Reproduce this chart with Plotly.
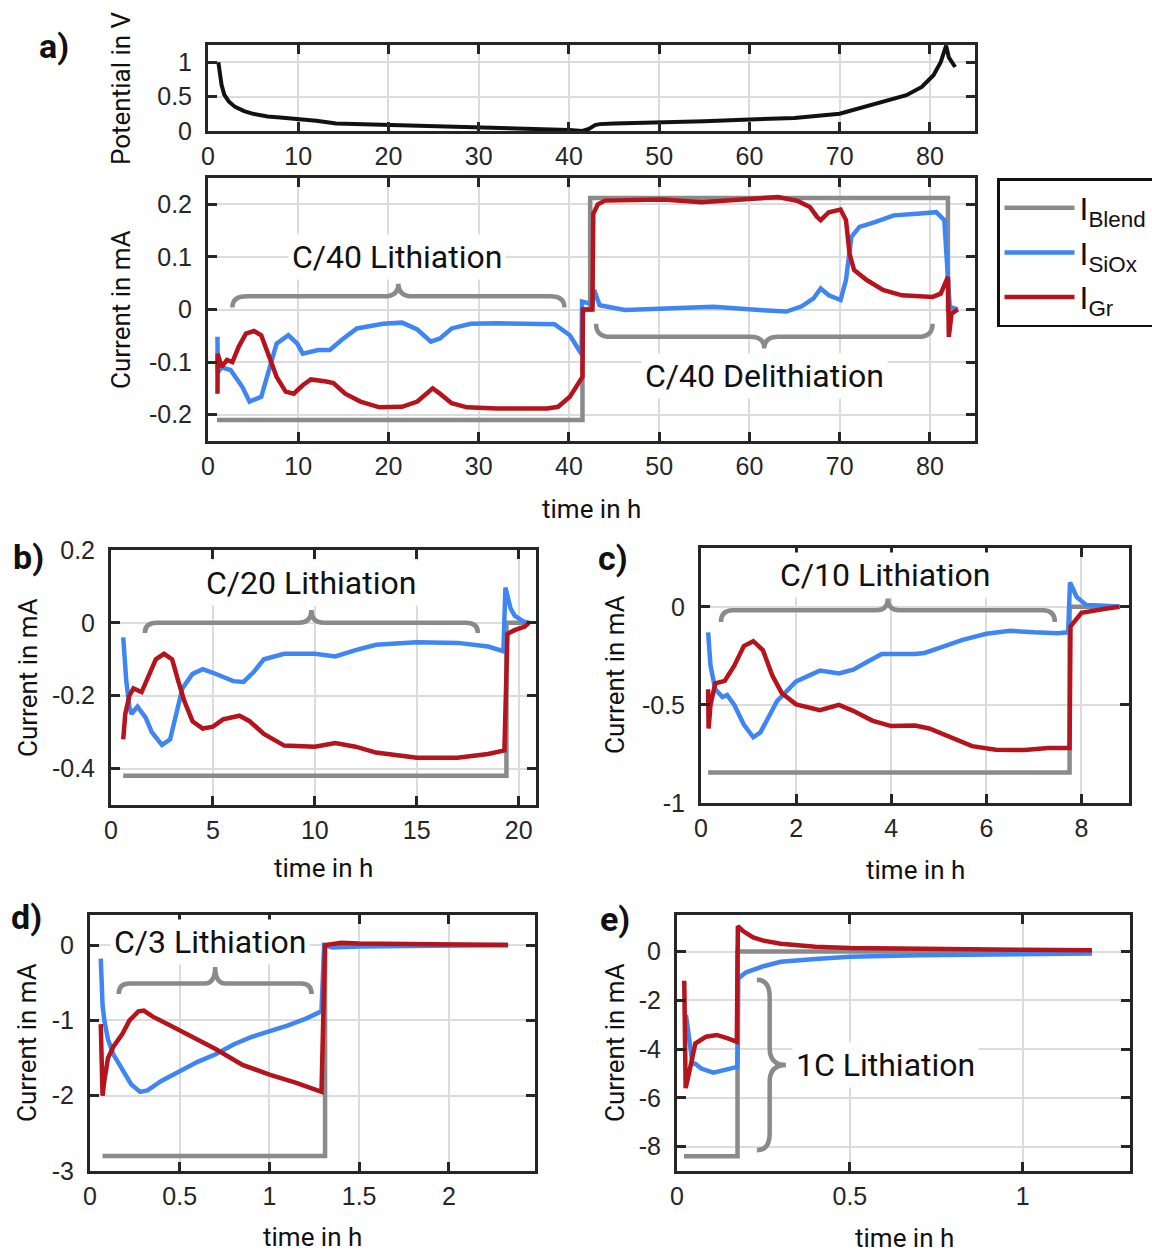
import plotly.graph_objects as go

W, H = 1152, 1252

# ---------------- data ----------------
# a) potential (top strip)
pot_t = [1.15, 1.3, 1.5, 1.8, 2.3, 3.0, 4.0, 5.0, 6.6, 8.0, 10.4, 12.0, 14.2, 17.0, 20.0, 25.0, 30.0, 35.0,
         38.0, 40.0, 41.5, 42.2, 42.9, 43.4, 45.0, 50.0, 55.0, 60.0, 65.0, 70.0, 72.0, 74.0, 76.0, 77.4,
         79.1, 80.4, 81.2, 81.8, 82.1, 82.5, 82.8]
pot_v = [1.0, 0.85, 0.67, 0.53, 0.43, 0.35, 0.29, 0.25, 0.21, 0.195, 0.17, 0.15, 0.11, 0.1, 0.086, 0.07, 0.055,
         0.04, 0.03, 0.015, 0.0, 0.03, 0.086, 0.1, 0.11, 0.12, 0.14, 0.167, 0.19, 0.25, 0.32, 0.4, 0.46, 0.52,
         0.64, 0.81, 1.0, 1.24, 1.07, 0.98, 0.93]

# a) currents, C/40
blend_a_t = [1.0, 41.5, 41.5, 42.35, 42.35, 82.0, 82.0, 83.0]
blend_a = [-0.21, -0.21, 0.0, 0.0, 0.212, 0.212, 0.0, 0.0]
siox_a_t = [1.05, 1.07, 1.5, 2.5, 3.8, 4.6, 5.9, 6.75, 7.6, 8.9, 9.9, 10.5, 12.2, 13.5, 14.8, 16.5, 19.4, 21.5,
            23.2, 24.7, 25.7, 27.0, 29.1, 32.0, 36.3, 38.4, 40.1, 41.1, 41.4, 41.45, 42.6, 42.8, 43.4, 46.2,
            50.4, 56.0, 61.1, 64.1, 65.8, 67.1, 67.9, 68.8, 70.1, 70.7, 71.3, 72.2, 73.9, 76.0, 78.6, 80.7,
            81.6, 82.0, 82.2, 83.1]
siox_a = [-0.052, -0.12, -0.11, -0.115, -0.147, -0.175, -0.166, -0.115, -0.065, -0.049, -0.065, -0.084, -0.077,
          -0.077, -0.058, -0.036, -0.027, -0.025, -0.038, -0.061, -0.055, -0.036, -0.027, -0.026, -0.026, -0.028,
          -0.049, -0.08, -0.085, 0.015, 0.01, 0.037, 0.008, -0.001, 0.002, 0.005, -0.001, -0.004, 0.006, 0.021,
          0.04, 0.027, 0.018, 0.056, 0.138, 0.157, 0.166, 0.179, 0.182, 0.185, 0.17, 0.062, 0.005, 0.0]
gr_a_t = [1.05, 1.07, 1.5, 2.1, 2.7, 3.4, 4.2, 5.1, 5.9, 6.75, 7.6, 8.6, 9.5, 10.5, 11.4, 13.1, 13.9, 15.2, 16.9,
          19.0, 21.5, 23.2, 24.0, 24.9, 25.7, 27.0, 28.7, 32.0, 37.6, 38.8, 40.1, 41.1, 41.5, 41.55, 42.6, 42.7,
          43.2, 44.0, 50.4, 54.7, 59.0, 63.2, 65.4, 66.7, 67.5, 67.9, 68.8, 70.1, 70.7, 71.1, 71.6, 73.0, 74.8,
          76.9, 80.3, 81.2, 82.0, 82.1, 82.4, 83.1]
gr_a = [-0.16, -0.084, -0.109, -0.096, -0.1, -0.071, -0.046, -0.041, -0.049, -0.09, -0.128, -0.156, -0.16, -0.144,
        -0.133, -0.137, -0.14, -0.16, -0.175, -0.186, -0.185, -0.175, -0.162, -0.15, -0.16, -0.178, -0.186, -0.188,
        -0.188, -0.185, -0.166, -0.14, -0.128, 0.0, 0.0, 0.182, 0.2, 0.207, 0.209, 0.204, 0.209, 0.214, 0.206,
        0.195, 0.176, 0.17, 0.185, 0.19, 0.17, 0.106, 0.075, 0.056, 0.037, 0.027, 0.024, 0.03, 0.062, -0.052,
        -0.008, 0.0]

# b) C/20
blend_b_t = [0.6, 19.4, 19.4, 20.5]
blend_b = [-0.42, -0.42, 0.0, 0.0]
siox_b_t = [0.6, 0.75, 0.9, 1.0, 1.3, 1.7, 2.0, 2.5, 2.9, 3.2, 3.5, 4.0, 4.5, 5.0, 6.0, 6.5, 7.0, 7.5, 8.5, 10.0,
            11.0, 12.0, 13.0, 15.0, 17.0, 18.5, 19.25, 19.35, 19.6, 19.8, 20.2, 20.5]
siox_b = [-0.04, -0.16, -0.23, -0.25, -0.23, -0.26, -0.3, -0.335, -0.32, -0.25, -0.18, -0.14, -0.127, -0.137,
          -0.16, -0.162, -0.135, -0.1, -0.085, -0.085, -0.092, -0.075, -0.06, -0.053, -0.055, -0.065, -0.078,
          0.097, 0.04, 0.02, 0.005, 0.0]
gr_b_t = [0.6, 0.7, 0.9, 1.1, 1.5, 1.8, 2.2, 2.6, 3.0, 3.3, 3.6, 4.0, 4.5, 5.0, 5.5, 6.3, 6.8, 7.5, 8.5, 10.0,
          11.0, 12.0, 13.0, 15.0, 17.0, 18.5, 19.3, 19.45, 19.8, 20.3, 20.5]
gr_b = [-0.32, -0.25, -0.2, -0.18, -0.19, -0.15, -0.1, -0.085, -0.1, -0.16, -0.215, -0.27, -0.29, -0.285, -0.265,
        -0.255, -0.27, -0.305, -0.337, -0.34, -0.33, -0.34, -0.356, -0.37, -0.37, -0.36, -0.35, -0.03, -0.02,
        -0.01, 0.0]

# c) C/10
blend_c_t = [0.15, 7.75, 7.75, 8.8]
blend_c = [-0.845, -0.845, 0.0, 0.0]
siox_c_t = [0.15, 0.2, 0.3, 0.45, 0.55, 0.7, 0.9, 1.1, 1.25, 1.45, 1.6, 2.0, 2.5, 2.9, 3.2, 3.5, 3.8, 4.5, 4.7,
            5.0, 5.5, 6.0, 6.5, 7.0, 7.5, 7.72, 7.76, 7.9, 8.1, 8.5, 8.8]
siox_c = [-0.13, -0.3, -0.42, -0.46, -0.45, -0.5, -0.6, -0.665, -0.64, -0.55, -0.48, -0.38, -0.325, -0.34, -0.32,
          -0.28, -0.24, -0.24, -0.235, -0.21, -0.168, -0.137, -0.122, -0.13, -0.135, -0.13, 0.125, 0.05, 0.01,
          0.005, 0.0]
gr_c_t = [0.15, 0.16, 0.2, 0.3, 0.5, 0.7, 0.9, 1.1, 1.3, 1.5, 1.7, 2.0, 2.5, 2.9, 3.2, 3.6, 4.0, 4.5, 4.8, 5.2,
          5.7, 6.2, 6.8, 7.3, 7.75, 7.77, 8.0, 8.5, 8.8]
gr_c = [-0.42, -0.62, -0.5, -0.39, -0.377, -0.3, -0.2, -0.175, -0.22, -0.35, -0.44, -0.497, -0.527, -0.5, -0.53,
        -0.58, -0.608, -0.605, -0.62, -0.66, -0.71, -0.728, -0.73, -0.72, -0.72, -0.1, -0.03, -0.01, 0.0]

# d) C/3
blend_d_t = [0.07, 1.31, 1.31, 2.33]
blend_d = [-2.8, -2.8, 0.0, 0.0]
siox_d_t = [0.06, 0.07, 0.08, 0.1, 0.13, 0.18, 0.23, 0.28, 0.32, 0.4, 0.5, 0.6, 0.7, 0.8, 0.9, 1.0, 1.1, 1.2,
            1.29, 1.305, 1.35, 1.5, 2.0, 2.33]
siox_d = [-0.18, -0.8, -1.0, -1.25, -1.45, -1.65, -1.85, -1.95, -1.93, -1.8, -1.68, -1.55, -1.45, -1.32, -1.22,
          -1.15, -1.07, -0.98, -0.88, 0.0, -0.03, -0.02, 0.0, 0.0]
gr_d_t = [0.06, 0.07, 0.08, 0.1, 0.13, 0.18, 0.22, 0.27, 0.3, 0.35, 0.45, 0.6, 0.7, 0.85, 1.0, 1.15, 1.29, 1.31,
          1.4, 1.5, 2.0, 2.33]
gr_d = [-1.05, -2.0, -1.8, -1.5, -1.35, -1.18, -1.0, -0.88, -0.87, -0.95, -1.07, -1.25, -1.38, -1.59, -1.72, -1.83,
        -1.95, 0.0, 0.03, 0.02, 0.0, 0.0]

# e) 1C
blend_e_t = [0.02, 0.175, 0.175, 1.2]
blend_e = [-8.4, -8.4, 0.0, 0.0]
siox_e_t = [0.026, 0.045, 0.053, 0.07, 0.105, 0.13, 0.16, 0.174, 0.176, 0.177, 0.2, 0.25, 0.3, 0.4, 0.5, 0.7, 1.0,
            1.2]
siox_e = [-2.6, -4.6, -4.6, -4.8, -4.97, -4.9, -4.78, -4.73, -3.8, -1.1, -0.85, -0.6, -0.42, -0.3, -0.21, -0.15,
          -0.1, -0.08]
gr_e_t = [0.021, 0.025, 0.03, 0.045, 0.053, 0.084, 0.115, 0.147, 0.173, 0.176, 0.19, 0.22, 0.25, 0.3, 0.4, 0.5,
          0.7, 1.0, 1.2]
gr_e = [-1.2, -5.6, -5.3, -4.3, -3.77, -3.49, -3.42, -3.56, -3.7, 1.05, 0.85, 0.58, 0.45, 0.32, 0.2, 0.15, 0.1,
        0.07, 0.05]

# tick values / labels
a_xticks = [0, 10, 20, 30, 40, 50, 60, 70, 80]
a_xlabels = ["0", "10", "20", "30", "40", "50", "60", "70", "80"]
pot_yticks = [0, 0.5, 1]
pot_ylabels = ["0", "0.5", "1"]
a_yticks = [-0.2, -0.1, 0, 0.1, 0.2]
a_ylabels = ["-0.2", "-0.1", "0", "0.1", "0.2"]
b_xticks = [0, 5, 10, 15, 20]
b_xlabels = ["0", "5", "10", "15", "20"]
b_yticks = [-0.4, -0.2, 0, 0.2]
b_ylabels = ["-0.4", "-0.2", "0", "0.2"]
c_xticks = [0, 2, 4, 6, 8]
c_xlabels = ["0", "2", "4", "6", "8"]
c_yticks = [-1, -0.5, 0]
c_ylabels = ["-1", "-0.5", "0"]
d_xticks = [0, 0.5, 1, 1.5, 2]
d_xlabels = ["0", "0.5", "1", "1.5", "2"]
d_yticks = [-3, -2, -1, 0]
d_ylabels = ["-3", "-2", "-1", "0"]
e_xticks = [0, 0.5, 1]
e_xlabels = ["0", "0.5", "1"]
e_yticks = [-8, -6, -4, -2, 0]
e_ylabels = ["-8", "-6", "-4", "-2", "0"]

# ---------------- styling ----------------
GRAY, BLUE, RED, BLACK = "#8a8a8a", "#3f86f3", "#b5141c", "#111111"
AXC = "#262626"
TICK_FAMILY = "Liberation Sans, Arial, sans-serif"
TEXT_FAMILY = "Roboto, Liberation Sans, sans-serif"

fig = go.Figure()


def xdom(l, r):
    return [l / W, r / W]


def ydom(t, b):
    return [1 - b / H, 1 - t / H]


# pixel boxes (left, right, top, bottom)
boxes = {
    1: (208, 975, 45, 131),
    2: (208, 975, 178, 441),
    3: (111, 536, 550, 805),
    4: (701, 1129, 548, 803),
    5: (90, 535, 915, 1171),
    6: (677, 1130, 915, 1171),
}
axes_cfg = {
    1: ([0, 85], a_xticks, a_xlabels, [0, 1.25], pot_yticks, pot_ylabels),
    2: ([0, 85], a_xticks, a_xlabels, [-0.25, 0.25], a_yticks, a_ylabels),
    3: ([0, 20.85], b_xticks, b_xlabels, [-0.5, 0.2], b_yticks, b_ylabels),
    4: ([0, 9], c_xticks, c_xlabels, [-1, 0.3], c_yticks, c_ylabels),
    5: ([0, 2.48], d_xticks, d_xlabels, [-3, 0.4], d_yticks, d_ylabels),
    6: ([0, 1.31], e_xticks, e_xlabels, [-9, 1.5], e_yticks, e_ylabels),
}

common = dict(showline=True, linecolor=AXC, linewidth=3, mirror="allticks", ticks="inside", ticklen=9,
              tickwidth=2.5, tickcolor=AXC, showgrid=True, gridcolor="#dcdcdc", gridwidth=2, zeroline=False,
              tickfont=dict(family=TICK_FAMILY, size=25, color=AXC), tickmode="array", fixedrange=True)

for n, (l, r, t, b) in boxes.items():
    xr, xt, xl, yr, yt, yl = axes_cfg[n]
    sfx = "" if n == 1 else str(n)
    fig.update_layout({
        f"xaxis{sfx}": dict(common, domain=xdom(l, r), range=xr, tickvals=xt, ticktext=xl,
                            anchor=f"y{sfx}", ticklabelstandoff=1),
        f"yaxis{sfx}": dict(common, domain=ydom(t, b), range=yr, tickvals=yt, ticktext=yl,
                            anchor=f"x{sfx}", ticklabelstandoff=8),
    })


def add(x, y, n, color, width=4.5, name=None):
    sfx = "" if n == 1 else str(n)
    fig.add_trace(go.Scatter(x=x, y=y, xaxis=f"x{sfx}", yaxis=f"y{sfx}", mode="lines",
                             line=dict(color=color, width=width), name=name,
                             showlegend=name is not None, hoverinfo="skip"))


add(pot_t, pot_v, 1, BLACK, 4)
add(blend_a_t, blend_a, 2, GRAY, 4.5, "I<sub>Blend</sub>")
add(siox_a_t, siox_a, 2, BLUE, 4.5, "I<sub>SiOx</sub>")
add(gr_a_t, gr_a, 2, RED, 4.5, "I<sub>Gr</sub>")
for n, series in [(3, (blend_b_t, blend_b, siox_b_t, siox_b, gr_b_t, gr_b)),
                  (4, (blend_c_t, blend_c, siox_c_t, siox_c, gr_c_t, gr_c)),
                  (5, (blend_d_t, blend_d, siox_d_t, siox_d, gr_d_t, gr_d)),
                  (6, (blend_e_t, blend_e, siox_e_t, siox_e, gr_e_t, gr_e))]:
    bt, bv, st, sv, gt, gv = series
    add(bt, bv, n, GRAY, 4.5)
    add(st, sv, n, BLUE, 4.5)
    add(gt, gv, n, RED, 4.5)


# ---------------- braces ----------------
def hbrace(x0, x1, y_end, y_mid, y_tip, r, n):
    xm = (x0 + x1) / 2
    p = (f"M{x0},{y_end} Q{x0},{y_mid} {x0 + r},{y_mid} L{xm - r},{y_mid} "
         f"Q{xm},{y_mid} {xm},{y_tip} Q{xm},{y_mid} {xm + r},{y_mid} "
         f"L{x1 - r},{y_mid} Q{x1},{y_mid} {x1},{y_end}")
    return dict(type="path", path=p, xref=f"x{n}", yref=f"y{n}", line=dict(color=GRAY, width=4.5))


def vbrace(x_end, x_mid, x_tip, y_top, y_bot, r, n):
    ym = (y_top + y_bot) / 2
    p = (f"M{x_end},{y_top} Q{x_mid},{y_top} {x_mid},{y_top - r} L{x_mid},{ym + r} "
         f"Q{x_mid},{ym} {x_tip},{ym} Q{x_mid},{ym} {x_mid},{ym - r} "
         f"L{x_mid},{y_bot + r} Q{x_mid},{y_bot} {x_end},{y_bot}")
    return dict(type="path", path=p, xref=f"x{n}", yref=f"y{n}", line=dict(color=GRAY, width=4.5))


shapes = [
    hbrace(2.7, 39.5, 0.004, 0.025, 0.049, 1.6, 2),
    hbrace(43.0, 80.3, -0.027, -0.052, -0.074, 1.6, 2),
    hbrace(1.66, 18.0, -0.028, 0.0, 0.035, 0.6, 3),
    hbrace(0.42, 7.44, -0.077, -0.017, 0.043, 0.25, 4),
    hbrace(0.16, 1.235, -0.65, -0.51, -0.29, 0.06, 5),
    vbrace(0.231, 0.268, 0.315, -1.16, -8.15, 0.7, 6),
]

# ---------------- text ----------------
ann = []


def label(text, n, x, y, size=32):
    ann.append(dict(text=text, x=x, y=y, xref=f"x{n}", yref=f"y{n}", showarrow=False,
                    font=dict(family=TEXT_FAMILY, size=size, color="#111"), bgcolor="white", borderpad=3,
                    xanchor="center", yanchor="middle"))


label("C/40 Lithiation", 2, 21.0, 0.1)
label("C/40 Delithiation", 2, 61.7, -0.127)
label("C/20 Lithiation", 3, 9.8, 0.11)
label("C/10 Lithiation", 4, 3.86, 0.163)
label("C/3 Lithiation", 5, 0.67, 0.036)
label("1C Lithiation", 6, 0.604, -4.66)


def ptext(text, px, py, size=26, angle=0, weight="normal"):
    ann.append(dict(text=text, x=px / W, y=1 - py / H, xref="paper", yref="paper", showarrow=False,
                    textangle=angle, font=dict(family=TEXT_FAMILY, size=size, color="#111", weight=weight),
                    xanchor="center", yanchor="middle"))


ptext("Potential in V", 121, 88, 26, -90)
ptext("Current in mA", 121, 310, 26, -90)
ptext("Current in mA", 28, 678, 26, -90)
ptext("Current in mA", 615, 675, 26, -90)
ptext("Current in mA", 27, 1043, 26, -90)
ptext("Current in mA", 615, 1043, 26, -90)
ptext("time in h", 591, 509)
ptext("time in h", 323, 868)
ptext("time in h", 915, 870)
ptext("time in h", 312, 1237)
ptext("time in h", 904, 1238)
ptext("a)", 54, 46, 34, 0, "bold")
ptext("b)", 28, 557, 34, 0, "bold")
ptext("c)", 613, 558, 34, 0, "bold")
ptext("d)", 26, 917, 34, 0, "bold")
ptext("e)", 615, 919, 34, 0, "bold")

fig.update_layout(
    width=W, height=H, margin=dict(l=0, r=0, t=0, b=0, autoexpand=False),
    paper_bgcolor="white", plot_bgcolor="white",
    shapes=shapes, annotations=ann,
    legend=dict(x=997 / W, y=1 - 178 / H, xanchor="left", yanchor="top", bordercolor=BLACK, borderwidth=2.5,
                bgcolor="white", font=dict(family=TICK_FAMILY, size=32, color="#111"), itemwidth=70,
                tracegroupgap=0),
)

fig.write_html("out.html")
